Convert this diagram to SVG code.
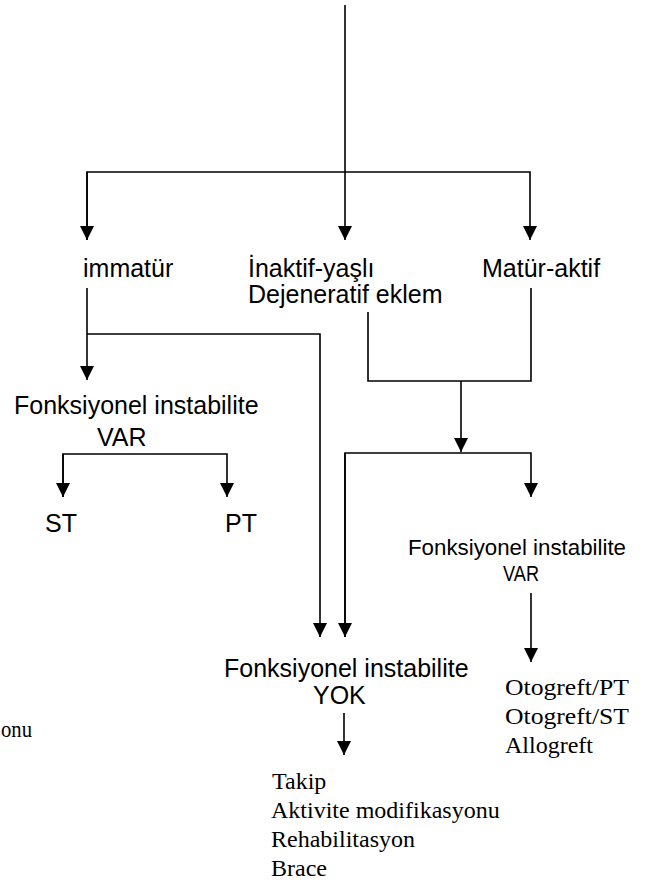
<svg xmlns="http://www.w3.org/2000/svg" width="646" height="884" viewBox="0 0 646 884">
<style>
.c{fill:none;stroke:#000;stroke-width:1.6}
.s{font-family:"Liberation Sans",Arial,sans-serif;font-size:25px;fill:#000}
.s2{font-family:"Liberation Sans",Arial,sans-serif;font-size:22px;fill:#000}
.r{font-family:"Liberation Serif","Times New Roman",serif;font-size:24px;fill:#000}
</style>
<defs>
<marker id="ah" markerUnits="userSpaceOnUse" markerWidth="16" markerHeight="16" viewBox="0 0 16 16" refX="15" refY="8" orient="auto">
<path d="M1,1 L15,8 L1,15 Z" fill="#000"/>
</marker>
</defs>
<rect width="646" height="884" fill="#fff"/>
<g id="connectors">
<path class="c" d="M345,5 V240" marker-end="url(#ah)"/>
<path class="c" d="M87,240 V172 H530 V240" marker-end="url(#ah)"/>
<path class="c" d="M87,172 V240" marker-end="url(#ah)"/>
<path class="c" d="M87,288 V380" marker-end="url(#ah)"/>
<path class="c" d="M87,334 H320 V637" marker-end="url(#ah)"/>
<path class="c" d="M368,312 V381 H531 V288"/>
<path class="c" d="M461,381 V452" marker-end="url(#ah)"/>
<path class="c" d="M345,637 V453 H531 V497" marker-end="url(#ah)"/>
<path class="c" d="M345,453 V637" marker-end="url(#ah)"/>
<path class="c" d="M63,497 V454 H227 V497" marker-end="url(#ah)"/>
<path class="c" d="M63,454 V497" marker-end="url(#ah)"/>
<path class="c" d="M531,593 V662" marker-end="url(#ah)"/>
<path class="c" d="M344,713 V755" marker-end="url(#ah)"/>
</g>
<g id="immatur"><text class="s" x="83" y="277">immatür</text></g>
<g id="inaktif"><text class="s" x="248" y="277">İnaktif-yaşlı</text><text class="s" x="248" y="303">Dejeneratif eklem</text></g>
<g id="matur"><text class="s" x="482" y="277">Matür-aktif</text></g>
<g id="fi-var-left"><text class="s" x="14" y="414">Fonksiyonel instabilite</text><text class="s" x="97" y="446">VAR</text></g>
<g id="st"><text class="s" x="45" y="532">ST</text></g>
<g id="pt"><text class="s" x="225" y="532">PT</text></g>
<g id="fi-var-right"><text class="s2" x="408" y="555" textLength="218" lengthAdjust="spacingAndGlyphs">Fonksiyonel instabilite</text><text class="s2" x="503" y="581" textLength="36" lengthAdjust="spacingAndGlyphs">VAR</text></g>
<g id="fi-yok"><text class="s" x="224" y="677">Fonksiyonel instabilite</text><text class="s" x="313" y="704">YOK</text></g>
<g id="greft"><text class="r" x="505" y="695" textLength="124" lengthAdjust="spacingAndGlyphs">Otogreft/PT</text><text class="r" x="505" y="724" textLength="124" lengthAdjust="spacingAndGlyphs">Otogreft/ST</text><text class="r" x="505" y="753">Allogreft</text></g>
<g id="tedavi"><text class="r" x="272" y="789">Takip</text><text class="r" x="271" y="818">Aktivite modifikasyonu</text><text class="r" x="271" y="847">Rehabilitasyon</text><text class="r" x="271" y="876">Brace</text></g>
<g id="clipped"><text class="r" x="1" y="737" textLength="31" lengthAdjust="spacingAndGlyphs">onu</text></g>
</svg>
